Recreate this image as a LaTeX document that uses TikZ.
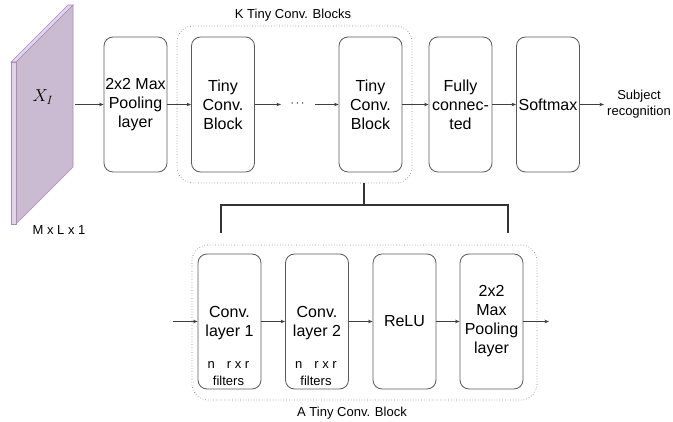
\documentclass[tikz,border=0pt]{standalone}
\usepackage{fontspec}
\setmainfont{Liberation Sans}
\usetikzlibrary{arrows.meta}
\definecolor{slablight}{HTML}{E1D5E7}
\definecolor{slabdark}{HTML}{CABBD2}
\definecolor{slabedge}{HTML}{A98BB8}
\definecolor{boxedge}{HTML}{5A5A5A}
\definecolor{grpedge}{HTML}{8A8A8A}
\begin{document}
\begin{tikzpicture}[x=1pt,y=-1pt,
  layerbox/.style={draw=boxedge, line width=0.8pt, rounded corners=9pt, minimum width=63pt, minimum height=135pt, align=center, inner sep=1pt, font=\fontsize{16}{19}\selectfont},
  groupbox/.style={draw=grpedge, dotted, line width=0.7pt, rounded corners=16pt},
  caption/.style={align=center, font=\fontsize{13}{15.5}\selectfont},
  smalltext/.style={align=center, font=\fontsize{13}{16.5}\selectfont},
  flow/.style={draw=black!75, line width=0.7pt, -{Stealth[length=4.5pt,width=3.5pt]}},
  bracket/.style={draw=black!80, line width=1.4pt}]
\useasboundingbox (0,0) rectangle (673,422);

% input slab drawn as a thin cuboid
\fill[slabdark, draw=slabedge, line width=0.7pt] (16,62) -- (73,5) -- (73,167) -- (16,224) -- cycle;
\fill[slablight, draw=slabedge, line width=0.7pt] (11,62) -- (68,5) -- (73,5) -- (16,62) -- cycle;
\fill[slablight, draw=slabedge, line width=0.7pt] (11,62) rectangle (16,224);
\node (xi) at (43,97) {\fontsize{18}{21}\selectfont $X_I$};
\node[caption] (dims) at (59,230) {M x L x 1};
\coordinate (slabout) at (75,104.5);

% top row
\node[layerbox] (pool) at (135.5,104.5) {2x2 Max\\Pooling\\layer};
\node[layerbox] (tiny1) at (223,104.5) {Tiny\\Conv.\\Block};
\node[layerbox] (tiny2) at (370.5,104.5) {Tiny\\Conv.\\Block};
\node[layerbox] (fc) at (460.5,104.5) {Fully\\connec-\\ted};
\node[layerbox] (soft) at (548,104.5) {Softmax};
\node[caption] (out) at (639,104) {Subject\\recognition};
\node[font=\fontsize{12}{14}\selectfont, inner sep=0pt] (dots) at (297.5,104) {$\cdots$};
\coordinate (dotsin) at (281,104.5);
\coordinate (dotsout) at (315,104.5);
\coordinate (outend) at (604,104.5);

\node[groupbox, minimum width=235pt, minimum height=157pt] (kgroup) at (294.5,104.5) {};
\node[caption] (klabel) at (293,15) {K Tiny Conv. Blocks};

\draw[flow] (slabout) -- (pool.west);
\draw[flow] (pool.east) -- (tiny1.west);
\draw[flow] (tiny1.east) -- (dotsin);
\draw[flow] (dotsout) -- (tiny2.west);
\draw[flow] (tiny2.east) -- (fc.west);
\draw[flow] (fc.east) -- (soft.west);
\draw[flow] (soft.east) -- (outend);

% expansion bracket
\coordinate (bktop) at (364,183);
\coordinate (bkmid) at (364,205);
\coordinate (bkl) at (221,205);
\coordinate (bkr) at (508,205);
\coordinate (bkldown) at (221,233);
\coordinate (bkrdown) at (508,233);
\draw[bracket] (bktop) -- (bkmid);
\draw[bracket] (bkldown) -- (bkl) -- (bkr) -- (bkrdown);

% bottom row: one tiny conv block
\node[groupbox, minimum width=345pt, minimum height=155pt] (agroup) at (364.5,322.5) {};
\node[layerbox] (conv1) at (229.5,321.5) {};
\node[layerbox] (conv2) at (317,321.5) {};
\node[align=center, font=\fontsize{16}{19}\selectfont] (conv1t) at (229.5,323) {Conv.\\layer 1};
\node[align=center, font=\fontsize{16}{19}\selectfont] (conv2t) at (317,323) {Conv.\\layer 2};
\node[smalltext] (f1) at (228.5,373.5) {n\hspace{12pt}r x r\\filters};
\node[smalltext] (f2) at (316,373.5) {n\hspace{12pt}r x r\\filters};
\node[layerbox] (relu) at (404.5,321.5) {ReLU};
\node[layerbox] (pool2) at (491.5,321.5) {2x2\\Max\\Pooling\\layer};
\node[caption] (alabel) at (352,413) {A Tiny Conv. Block};
\coordinate (ain) at (173,321.5);
\coordinate (aout) at (549,321.5);

\draw[flow] (ain) -- (conv1.west);
\draw[flow] (conv1.east) -- (conv2.west);
\draw[flow] (conv2.east) -- (relu.west);
\draw[flow] (relu.east) -- (pool2.west);
\draw[flow] (pool2.east) -- (aout);
\end{tikzpicture}
\end{document}
